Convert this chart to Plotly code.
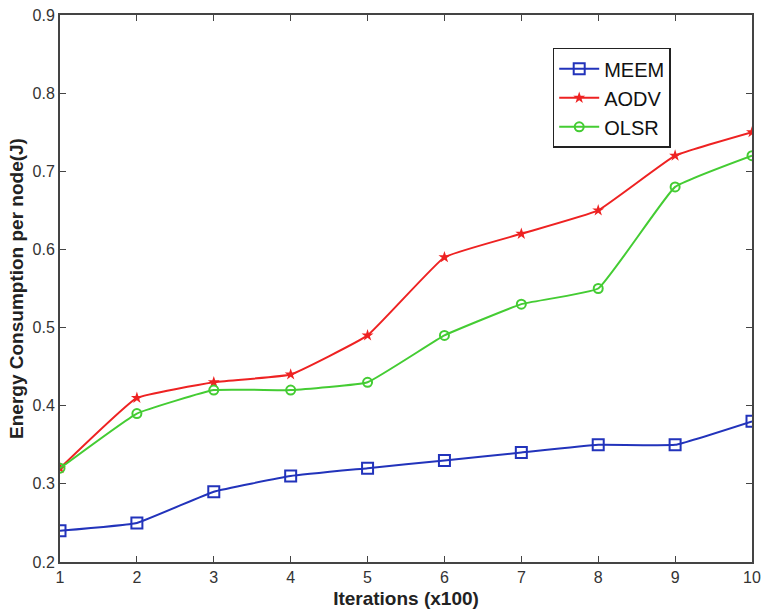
import plotly.graph_objects as go

iterations = [1, 2, 3, 4, 5, 6, 7, 8, 9, 10]
meem = [0.24, 0.25, 0.29, 0.31, 0.32, 0.33, 0.34, 0.35, 0.35, 0.38]
aodv = [0.32, 0.41, 0.43, 0.44, 0.49, 0.59, 0.62, 0.65, 0.72, 0.75]
olsr = [0.32, 0.39, 0.42, 0.42, 0.43, 0.49, 0.53, 0.55, 0.68, 0.72]

fig = go.Figure()
fig.add_trace(go.Scatter(x=iterations, y=meem, name="MEEM", mode="lines+markers",
                         line=dict(color="#2233bb", width=2, shape="spline", smoothing=0.3),
                         marker=dict(symbol="square-open", size=11, color="#2233bb", line=dict(width=2))))
fig.add_trace(go.Scatter(x=iterations, y=aodv, name="AODV", mode="lines+markers",
                         line=dict(color="#ee2222", width=2, shape="spline", smoothing=0.3),
                         marker=dict(symbol="star", size=9, color="#ee2222")))
fig.add_trace(go.Scatter(x=iterations, y=olsr, name="OLSR", mode="lines+markers",
                         line=dict(color="#44cc33", width=2, shape="spline", smoothing=0.3),
                         marker=dict(symbol="circle-open", size=9, color="#44cc33", line=dict(width=2))))

axis_common = dict(showline=True, linecolor="#444", linewidth=2, mirror="ticks",
                   ticks="inside", ticklen=6, tickcolor="#444", showgrid=False, zeroline=False,
                   ticklabeloverflow="allow",
                   tickfont=dict(family="Liberation Sans, Arial", size=16, color="#333"))

fig.update_layout(
    width=763, height=610,
    margin=dict(l=60, r=11, t=15, b=48, autoexpand=False),
    plot_bgcolor="white", paper_bgcolor="white",
    xaxis=dict(range=[1, 10], tickvals=iterations, ticktext=[str(v) for v in iterations],
               title=dict(text="<b>Iterations (x100)</b>", standoff=6,
                          font=dict(family="Liberation Sans, Arial", size=19, color="#222")),
               **axis_common),
    yaxis=dict(range=[0.2, 0.9], tickvals=[0.2, 0.3, 0.4, 0.5, 0.6, 0.7, 0.8, 0.9],
               ticktext=["0.2", "0.3", "0.4", "0.5", "0.6", "0.7", "0.8", "0.9"],
               title=dict(text="<b>Energy Consumption per node(J)</b>", standoff=4,
                          font=dict(family="Liberation Sans, Arial", size=19, color="#222")),
               **axis_common),
    legend=dict(x=0.712, y=0.94, xanchor="left", yanchor="top",
                bordercolor="#222", borderwidth=1.5, bgcolor="white",
                font=dict(family="Liberation Sans, Arial", size=20, color="#111"),
                itemwidth=40, tracegroupgap=0),
    showlegend=True,
)

fig.write_html("out.html")
